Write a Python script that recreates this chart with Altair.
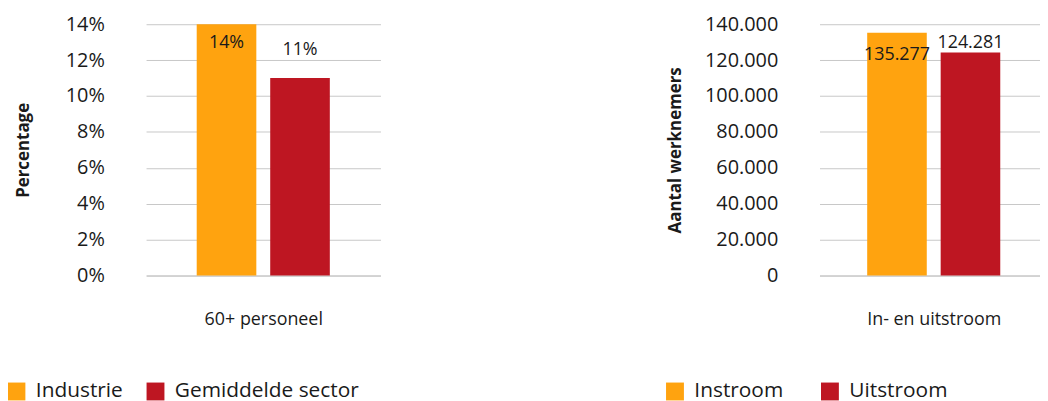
import altair as alt
import pandas as pd

# ---- data ----
left_series = ["Industrie", "Gemiddelde sector"]
left_values = [0.14, 0.11]
left_category = "60+ personeel"
left_ticks = [0, 0.02, 0.04, 0.06, 0.08, 0.10, 0.12, 0.14]

right_series = ["Instroom", "Uitstroom"]
right_values = [135277, 124281]
right_category = "In- en uitstroom"
right_ticks = [0, 20000, 40000, 60000, 80000, 100000, 120000, 140000]

# ---- style ----
ORANGE = "#FFA30F"
RED = "#BE1622"
FONT = "Open Sans"
TXT = "#1a1a1a"
GRID = "#C8C8C8"
ZERO = "#A8A8A8"


def panel(series, values, category, ticks, y_title, label_expr, width,
          pad_outer, title_pad, dys, legend_x, col_pad, y_fmt=None, y_label_expr=None):
    df = pd.DataFrame({"series": series, "value": values})
    base = alt.Chart(df).transform_calculate(label=label_expr)

    x = alt.X(
        "series:N", sort=series,
        scale=alt.Scale(paddingInner=0.189, paddingOuter=pad_outer),
        axis=alt.Axis(labels=False, ticks=False, domain=False, grid=False,
                      title=category, titleFont=FONT, titleFontSize=18,
                      titleFontWeight="normal", titleColor=TXT, titlePadding=35),
    )
    axis_kw = dict(values=ticks, grid=True,
                   gridColor=alt.condition("datum.value === 0", alt.value(ZERO), alt.value(GRID)),
                   gridWidth=1,
                   domain=False, ticks=False, labelFont=FONT, labelFontSize=20,
                   labelColor=TXT, labelPadding=42, labelOverlap=False,
                   labelFlush=False, title=y_title, titleFont=FONT,
                   titleFontSize=17, titleFontWeight="bold", titleColor=TXT,
                   titlePadding=title_pad)
    if y_fmt:
        axis_kw["format"] = y_fmt
    if y_label_expr:
        axis_kw["labelExpr"] = y_label_expr
    y = alt.Y("value:Q", scale=alt.Scale(domain=[ticks[0], ticks[-1]], nice=False),
              axis=alt.Axis(**axis_kw))

    bars = base.mark_bar().encode(
        x=x, y=y,
        color=alt.Color(
            "series:N", sort=series,
            scale=alt.Scale(domain=series, range=[ORANGE, RED]),
            legend=alt.Legend(orient="none", legendX=legend_x, legendY=359,
                              direction="horizontal", title=None,
                              symbolType="square", symbolSize=324,
                              symbolStrokeWidth=0, symbolOpacity=1,
                              labelFont=FONT, labelFontSize=21, labelColor=TXT,
                              labelOffset=9, columnPadding=col_pad,
                              labelLimit=400),
        ),
    )
    texts = []
    for s, dy in zip(series, dys):
        texts.append(
            base.transform_filter(alt.datum.series == s)
            .mark_text(font=FONT, fontSize=18, color=TXT, dy=dy, baseline="middle")
            .encode(x=x, y=y, text="label:N")
        )
    return alt.layer(bars, *texts).properties(width=width, height=253)


left = panel(left_series, left_values, left_category, left_ticks, "Percentage",
             "format(datum.value, '.0%')", 236, 0.689, 33, [19, -28], -141, 22,
             y_fmt=".0%")
right = panel(right_series, right_values, right_category, right_ticks,
              "Aantal werknemers",
              "replace(format(datum.value, ','), ',', '.')", 230, 0.649, 20,
              [22, -9], -156, 36,
              y_label_expr="replace(format(datum.value, ','), ',', '.')")

chart = (
    alt.hconcat(left, right, spacing=286)
    .resolve_scale(color="independent", y="independent", x="independent")
    .resolve_legend(color="independent")
    .properties(padding={"left": -2, "top": 5, "right": -8, "bottom": 0})
    .configure_view(stroke=None)
)

chart.save("out.html", embed_options={"renderer": "svg", "actions": False})
